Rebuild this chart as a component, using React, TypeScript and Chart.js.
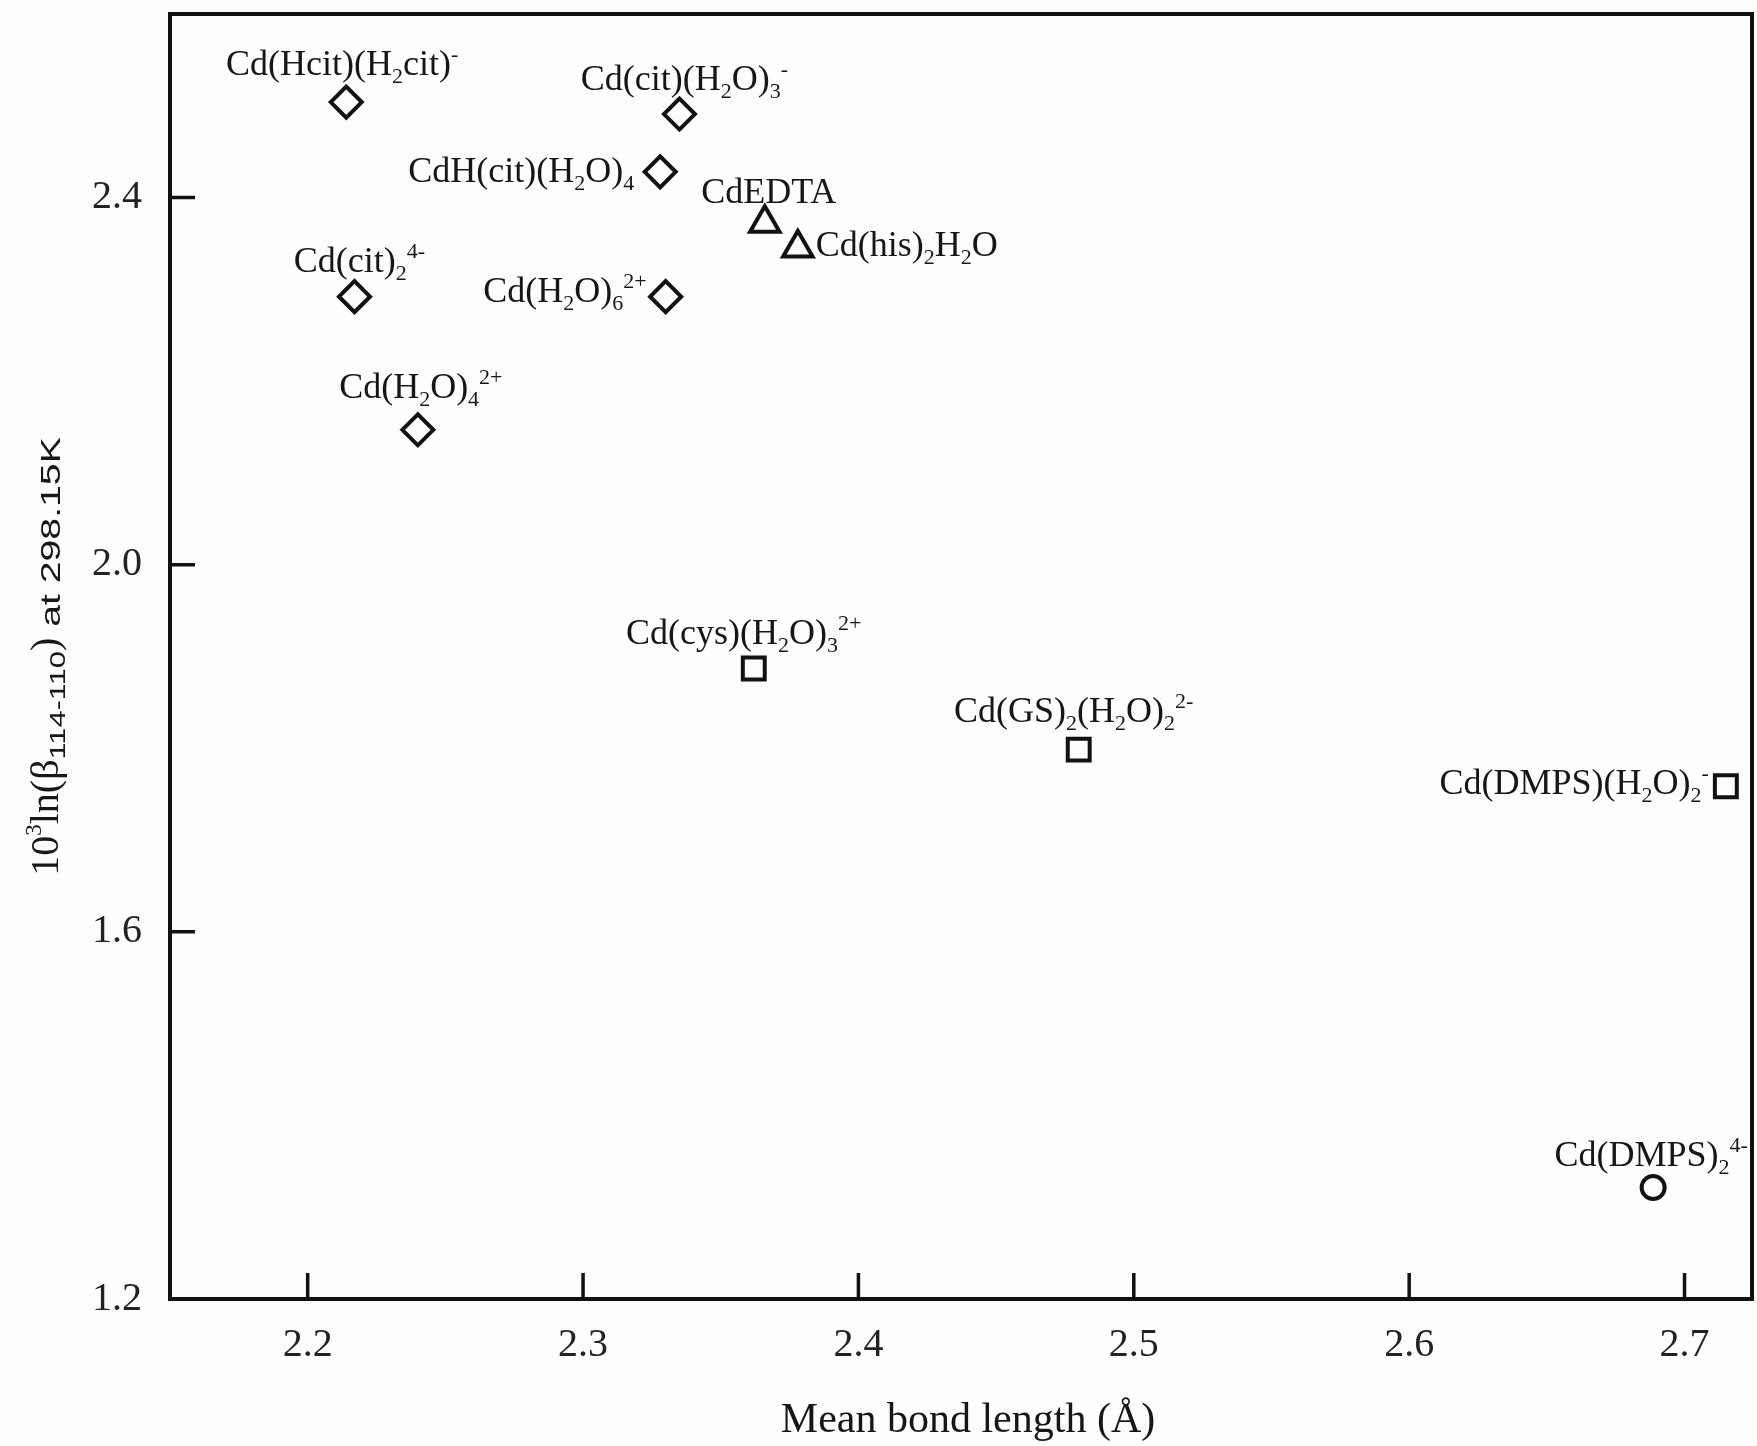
import React, { useEffect, useRef } from "react";
import { Chart, registerables } from "chart.js";

Chart.register(...registerables);

// ---------------- data ----------------
// O-coordinated complexes (diamonds)
const diamondLabels = [
  "Cd(Hcit)(H_{2}cit)^{-}",
  "Cd(cit)(H_{2}O)_{3}^{-}",
  "CdH(cit)(H_{2}O)_{4}",
  "Cd(cit)_{2}^{4-}",
  "Cd(H_{2}O)_{6}^{2+}",
  "Cd(H_{2}O)_{4}^{2+}",
];
const diamondX = [2.214, 2.335, 2.328, 2.217, 2.330, 2.240];
const diamondY = [2.504, 2.491, 2.428, 2.292, 2.292, 2.147];

// N-coordinated complexes (triangles)
const triangleLabels = ["CdEDTA", "Cd(his)_{2}H_{2}O"];
const triangleX = [2.366, 2.378];
const triangleY = [2.372, 2.345];

// S-coordinated complexes (squares)
const squareLabels = [
  "Cd(cys)(H_{2}O)_{3}^{2+}",
  "Cd(GS)_{2}(H_{2}O)_{2}^{2-}",
  "Cd(DMPS)(H_{2}O)_{2}^{-}",
];
const squareX = [2.362, 2.480, 2.715];
const squareY = [1.887, 1.7985, 1.7586];

// circle
const circleLabels = ["Cd(DMPS)_{2}^{4-}"];
const circleX = [2.6886];
const circleY = [1.3214];

// axes
const xTickValues = [2.2, 2.3, 2.4, 2.5, 2.6, 2.7];
const yTickValues = [1.2, 1.6, 2.0, 2.4];
const xTitle = "Mean bond length (Å)";

// ---------------- label layout (anchor, offset from marker in px) ----------------
type Lay = { align: "center" | "left" | "right"; dx: number; dy: number };
const diamondLayout: Lay[] = [
  { align: "center", dx: -4, dy: -27 },
  { align: "center", dx: 5, dy: -24 },
  { align: "right", dx: -26, dy: 10 },
  { align: "center", dx: 5, dy: -25 },
  { align: "right", dx: -19, dy: 5 },
  { align: "center", dx: 3, dy: -32 },
];
const triangleLayout: Lay[] = [
  { align: "center", dx: 4, dy: -20 },
  { align: "left", dx: 18, dy: 8 },
];
const squareLayout: Lay[] = [
  { align: "center", dx: -10, dy: -24 },
  { align: "center", dx: -5, dy: -28 },
  { align: "right", dx: -17, dy: 8 },
];
const circleLayout: Lay[] = [{ align: "center", dx: -2, dy: -22 }];

const SERIF = "'Liberation Serif', 'Times New Roman', serif";
const SANS = "'Liberation Sans', Arial, sans-serif";
const INK = "#161616";

type Seg = { text: string; mode: "n" | "sub" | "sup" };
function parseRich(s: string): Seg[] {
  const segs: Seg[] = [];
  let buf = "";
  let i = 0;
  while (i < s.length) {
    const c = s[i];
    if ((c === "_" || c === "^") && s[i + 1] === "{") {
      if (buf) {
        segs.push({ text: buf, mode: "n" });
        buf = "";
      }
      const end = s.indexOf("}", i + 2);
      segs.push({ text: s.slice(i + 2, end), mode: c === "_" ? "sub" : "sup" });
      i = end + 1;
    } else {
      buf += c;
      i++;
    }
  }
  if (buf) segs.push({ text: buf, mode: "n" });
  return segs;
}

function drawRich(
  ctx: CanvasRenderingContext2D,
  str: string,
  x: number,
  y: number,
  align: "center" | "left" | "right"
) {
  const segs = parseRich(str);
  const base = 36;
  const small = 22;
  const fontFor = (m: string) => (m === "n" ? `${base}px ${SERIF}` : `${small}px ${SERIF}`);
  const widths = segs.map((s) => {
    ctx.font = fontFor(s.mode);
    return ctx.measureText(s.text).width;
  });
  const total = widths.reduce((a, b) => a + b, 0);
  let cx = align === "center" ? x - total / 2 : align === "right" ? x - total : x;
  ctx.textAlign = "left";
  ctx.textBaseline = "alphabetic";
  segs.forEach((s, k) => {
    ctx.font = fontFor(s.mode);
    const dy = s.mode === "sub" ? 8 : s.mode === "sup" ? -14 : 0;
    ctx.fillText(s.text, cx, y + dy);
    cx += widths[k];
  });
}

type Part = { t: string; font: string; dy: number; sx: number };
const yTitleParts: Part[] = [
  { t: "10", font: `40px ${SERIF}`, dy: 0, sx: 1 },
  { t: "3", font: `23px ${SERIF}`, dy: -17, sx: 1 },
  { t: "ln(β", font: `40px ${SERIF}`, dy: 0, sx: 1 },
  { t: "114-110", font: `22px ${SANS}`, dy: 7, sx: 1.4 },
  { t: ")", font: `40px ${SERIF}`, dy: 0, sx: 1 },
  { t: " at 298.15K", font: `28px ${SANS}`, dy: 2, sx: 1.4 },
];

const groupLabels = [diamondLabels, triangleLabels, squareLabels, circleLabels];
const groupLayouts = [diamondLayout, triangleLayout, squareLayout, circleLayout];

const zeroPad = (s: any) => {
  s.paddingTop = 0;
  s.paddingBottom = 0;
  s.paddingLeft = 0;
  s.paddingRight = 0;
};

const decorPlugin = {
  id: "decor",
  beforeDraw(chart: any) {
    const { ctx, width, height } = chart;
    ctx.save();
    ctx.fillStyle = "#fdfdfd";
    ctx.fillRect(0, 0, width, height);
    ctx.restore();
  },
  afterDraw(chart: any) {
    const { ctx, chartArea: a } = chart;
    const xs = chart.scales.x;
    const ys = chart.scales.y;
    ctx.save();
    // frame
    ctx.strokeStyle = "#111";
    ctx.lineWidth = 4;
    ctx.strokeRect(a.left, a.top, a.right - a.left, a.bottom - a.top);
    // inward tick marks
    ctx.lineWidth = 3.5;
    ctx.beginPath();
    xs.ticks.forEach((t: any) => {
      const px = xs.getPixelForValue(t.value);
      ctx.moveTo(px, a.bottom);
      ctx.lineTo(px, a.bottom - 26);
    });
    ys.ticks.forEach((t: any) => {
      const py = ys.getPixelForValue(t.value);
      ctx.moveTo(a.left, py);
      ctx.lineTo(a.left + 25, py);
    });
    ctx.stroke();

    // point labels
    ctx.fillStyle = INK;
    chart.data.datasets.forEach((_ds: any, di: number) => {
      const meta = chart.getDatasetMeta(di);
      meta.data.forEach((pt: any, j: number) => {
        const lab = groupLabels[di][j];
        const lay = groupLayouts[di][j];
        drawRich(ctx, lab, pt.x + lay.dx, pt.y + lay.dy, lay.align);
      });
    });

    // x title
    ctx.font = `42px ${SERIF}`;
    ctx.textAlign = "center";
    ctx.textBaseline = "alphabetic";
    ctx.fillText(xTitle, (a.left + a.right) / 2 + 7, 1432);

    // y title (rotated, rich)
    const widths = yTitleParts.map((p) => {
      ctx.font = p.font;
      return ctx.measureText(p.t).width * p.sx;
    });
    const total = widths.reduce((s, w) => s + w, 0);
    ctx.translate(58, (a.top + a.bottom) / 2);
    ctx.rotate(-Math.PI / 2);
    let cx = -total / 2;
    ctx.textAlign = "left";
    yTitleParts.forEach((p, k) => {
      ctx.font = p.font;
      ctx.save();
      ctx.translate(cx, p.dy);
      ctx.scale(p.sx, 1);
      ctx.fillText(p.t, 0, 0);
      ctx.restore();
      cx += widths[k];
    });
    ctx.restore();
  },
};

export default function App() {
  const ref = useRef<HTMLCanvasElement | null>(null);

  useEffect(() => {
    document.body.style.margin = "0";
    const canvas = ref.current;
    if (!canvas) return;
    const mk = (xs: number[], ys: number[]) => xs.map((x, i) => ({ x, y: ys[i] }));
    const common = {
      showLine: false,
      borderColor: "#111",
      backgroundColor: "rgba(0,0,0,0)",
      pointBorderWidth: 4,
      pointBackgroundColor: "rgba(0,0,0,0)",
      pointBorderColor: "#111",
      clip: false as any,
    };
    const chart = new Chart(canvas, {
      type: "scatter",
      data: {
        datasets: [
          { ...common, label: "diamond", data: mk(diamondX, diamondY), pointStyle: "rectRot", pointRadius: 15.5 },
          { ...common, label: "triangle", data: mk(triangleX, triangleY), pointStyle: "triangle", pointRadius: 17 },
          { ...common, label: "square", data: mk(squareX, squareY), pointStyle: "rect", pointRadius: 15.5 },
          { ...common, label: "circle", data: mk(circleX, circleY), pointStyle: "circle", pointRadius: 11.5 },
        ],
      },
      options: {
        responsive: false,
        animation: false,
        devicePixelRatio: 1,
        layout: { autoPadding: false, padding: { top: 14, right: 5, left: 0, bottom: 0 } },
        plugins: { legend: { display: false }, tooltip: { enabled: false } },
        scales: {
          x: {
            type: "linear",
            min: 2.15,
            max: 2.7245,
            grid: { display: false, drawTicks: false },
            border: { display: false },
            afterBuildTicks: (s: any) => {
              s.ticks = xTickValues.map((v) => ({ value: v }));
            },
            afterFit: (s: any) => {
              s.height = 147;
              zeroPad(s);
            },
            ticks: {
              padding: 22,
              color: "#222",
              font: { family: SERIF, size: 40 },
              callback: (v: any) => Number(v).toFixed(1),
            },
          },
          y: {
            type: "linear",
            min: 1.2,
            max: 2.6,
            grid: { display: false, drawTicks: false },
            border: { display: false },
            afterBuildTicks: (s: any) => {
              s.ticks = yTickValues.map((v) => ({ value: v }));
            },
            afterFit: (s: any) => {
              s.width = 170;
              zeroPad(s);
            },
            ticks: {
              padding: 28,
              color: "#222",
              font: { family: SERIF, size: 40 },
              callback: (v: any) => Number(v).toFixed(1),
            },
          },
        },
      } as any,
      plugins: [decorPlugin],
    });
    return () => chart.destroy();
  }, []);

  return (
    <div style={{ width: 1757, height: 1446 }}>
      <canvas ref={ref} width={1757} height={1446} style={{ display: "block", width: 1757, height: 1446 }} />
    </div>
  );
}
